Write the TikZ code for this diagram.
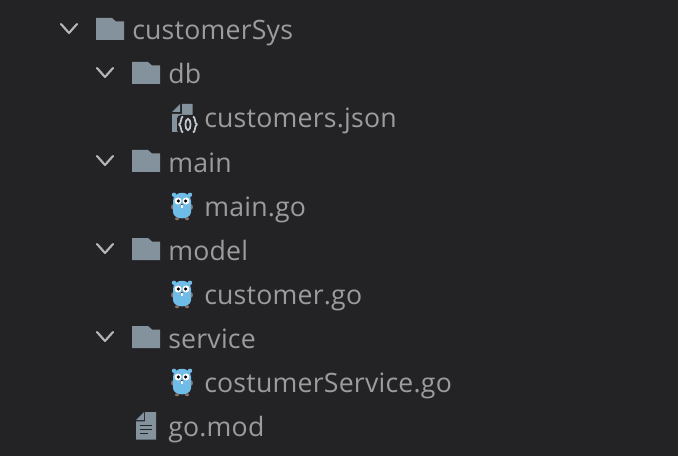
\documentclass[tikz,border=0pt]{standalone}
\usepackage{fontspec}
\setmainfont[LetterSpace=0.8]{Open Sans}
\definecolor{bg}{HTML}{232225}
\definecolor{txt}{HTML}{9C9C9C}
\definecolor{ico}{HTML}{84929D}
\definecolor{chev}{HTML}{B4B4B4}
\definecolor{gopher}{HTML}{6FBCE8}
\definecolor{paw}{HTML}{8C7266}
\definecolor{brace}{HTML}{C2CBD1}
\tikzset{
 label text/.style={anchor=base west,inner sep=0pt,text=txt,font=\fontsize{20}{22}\selectfont},
 chevron/.pic={\draw[chev,line width=1.6pt,line cap=round,line join=round] (-8,-4.5) -- (0,4.5) -- (8,-4.5);},
 folder/.pic={\fill[ico] (0,0) -- (16,0) -- (20,3.5) -- (28,3.5) -- (28,22) -- (0,22) -- cycle;},
 jsonicon/.pic={
  \fill[ico] (0,8) -- (8,0) -- (8,8) -- cycle;
  \fill[ico] (0,10) -- (10,10) -- (10,0) -- (20.5,0) -- (20.5,28) -- (0,28) -- cycle;
  \fill[bg,rounded corners=3] (5,11) rectangle (27,30);
  \draw[brace,line width=1.3pt,line join=round]
    (11,12.5) .. controls (8.5,12.5) and (9.5,20) .. (7,20.5) .. controls (9.5,21) and (8.5,28.5) .. (11,28.5);
  \draw[brace,line width=1.3pt,line join=round]
    (21,12.5) .. controls (23.5,12.5) and (22.5,20) .. (25,20.5) .. controls (22.5,21) and (23.5,28.5) .. (21,28.5);
  \draw[brace,line width=1.3pt] (16,20.5) ellipse (2.6 and 5.6);
 },
 gopher/.pic={
  \fill[paw] (-9.3,14) ellipse (1.6 and 2.6); \fill[paw] (9.3,14) ellipse (1.6 and 2.6);
  \fill[paw] (-5,25.8) ellipse (2 and 1.5); \fill[paw] (5,25.8) ellipse (2 and 1.5);
  \fill[gopher] (-8,1.8) circle (2.2); \fill[gopher] (8,1.8) circle (2.2);
  \fill[gopher] (-9,8) .. controls (-9,-3) and (9,-3) .. (9,8) -- (9,19) .. controls (9,27.5) and (-9,27.5) .. (-9,19) -- cycle;
  \fill[white] (-4,8) circle (3.5); \fill[white] (4,8) circle (3.5);
  \fill[black] (-3.6,8) circle (1.7); \fill[black] (3.6,8) circle (1.7);
  \fill[white] (-1,12) rectangle (1,14.8);
  \fill[paw!70!black] (0,11.5) ellipse (1.3 and .9);
 },
 modicon/.pic={
  \fill[ico] (0,8) -- (8,0) -- (8,8) -- cycle;
  \fill[ico] (0,9.3) -- (9,9.3) -- (9,0) -- (20,0) -- (20,27.7) -- (0,27.7) -- cycle;
  \fill[bg] (4,12.5) rectangle (16,14);
  \fill[bg] (4,16.5) rectangle (16,18);
  \fill[bg] (4,20.5) rectangle (12,22);
 }
}
\begin{document}
\begin{tikzpicture}[x=0.75pt,y=-0.75pt]
\useasboundingbox[fill=bg] (0,0) rectangle (678,456);
\pic at (69,28.5) {chevron};
\pic at (96,18) {folder};
\node[label text] (customerSys) at (132,40) {customerSys};
\pic at (105,72.5) {chevron};
\pic at (132,62) {folder};
\node[label text] (db) at (168,84) {db};
\pic at (172,104) {jsonicon};
\node[label text] (customersjson) at (204,128) {customers.json};
\pic at (105,160.5) {chevron};
\pic at (132,150) {folder};
\node[label text] (main) at (168,172) {main};
\pic at (182,193) {gopher};
\node[label text] (maingo) at (204,216) {main.go};
\pic at (105,248.5) {chevron};
\pic at (132,238) {folder};
\node[label text] (model) at (168,260) {model};
\pic at (182,281) {gopher};
\node[label text] (customergo) at (204,304) {customer.go};
\pic at (105,336.5) {chevron};
\pic at (132,326) {folder};
\node[label text] (service) at (168,348) {service};
\pic at (182,369) {gopher};
\node[label text] (costumerServicego) at (204,392) {costumerService.go};
\pic at (136,412) {modicon};
\node[label text] (gomod) at (168,436) {go.mod};
\end{tikzpicture}
\end{document}
